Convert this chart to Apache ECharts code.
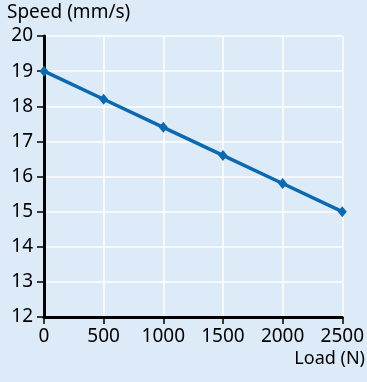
<!DOCTYPE html>
<html>
<head>
<meta charset="utf-8">
<script src="https://cdn.jsdelivr.net/npm/echarts@6/dist/echarts.min.js"></script>
<style>
  html, body { margin: 0; padding: 0; background: #ddeaf7; }
  #chart { width: 367px; height: 382px; }
</style>
</head>
<body>
<div id="chart"></div>
<script>
// load in N, speed in mm/s
var loads = [0, 500, 1000, 1500, 2000, 2500]
var speeds = [19, 18.2, 17.4, 16.6, 15.8, 15.0]

var chart = echarts.init(document.getElementById('chart'))
var font = 'Noto Sans'

chart.setOption({
  backgroundColor: '#ddeaf7',
  animation: false,
  grid: { left: 44, right: 24, top: 36, bottom: 65 },
  xAxis: {
    type: 'value',
    min: 0,
    max: 2500,
    interval: 500,
    axisLine: { lineStyle: { color: '#000', width: 3 } },
    axisTick: { show: true, length: 7, lineStyle: { color: '#000', width: 1.5 } },
    axisLabel: { color: '#000', fontSize: 19, fontFamily: font, margin: 10, formatter: function (v) { return String(v) } },
    splitLine: { show: true, lineStyle: { color: '#fff', width: 1.5 } }
  },
  yAxis: {
    type: 'value',
    min: 12,
    max: 20,
    interval: 1,
    axisLine: { show: true, lineStyle: { color: '#000', width: 3 } },
    axisTick: { show: true, length: 7, lineStyle: { color: '#000', width: 1.5 } },
    axisLabel: { color: '#000', fontSize: 19, fontFamily: font, margin: 11 },
    splitLine: { show: true, lineStyle: { color: '#fff', width: 1.5 } }
  },
  graphic: [
    {
      type: 'text', left: 7, top: 3,
      style: { text: 'Speed (mm/s)', fill: '#000', font: '19px ' + font }
    },
    {
      type: 'text', right: 2, top: 350,
      style: { text: 'Load (N)', fill: '#000', font: '18px ' + font }
    }
  ],
  series: [{
    type: 'line',
    data: loads.map(function (x, i) { return [x, speeds[i]] }),
    symbol: 'diamond',
    symbolSize: [9, 11],
    lineStyle: { color: '#0a69b0', width: 3.5 },
    itemStyle: { color: '#0a69b0' }
  }]
})
</script>
</body>
</html>
